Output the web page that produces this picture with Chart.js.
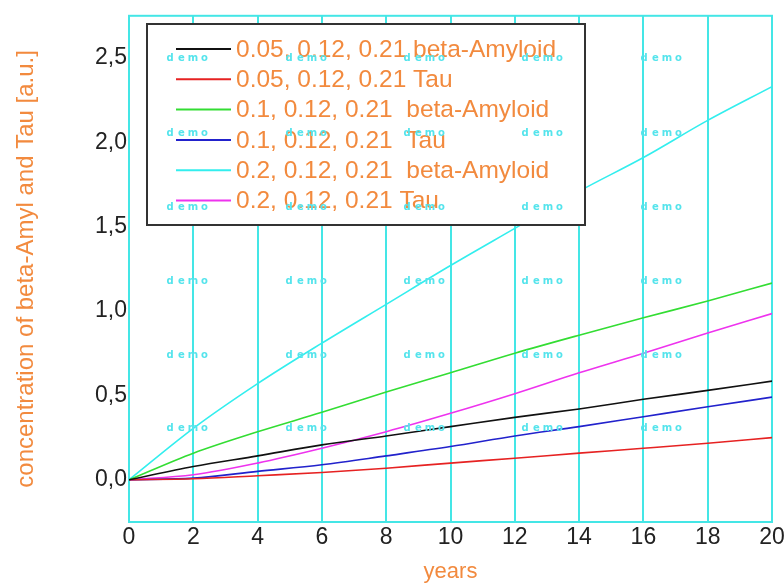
<!DOCTYPE html>
<html>
<head>
<meta charset="utf-8">
<script src="https://cdn.jsdelivr.net/npm/chart.js@4/dist/chart.umd.min.js"></script>
<style>
  body { margin: 0; background: #fff; overflow: hidden; }
  #wrap { width: 784px; height: 585px; overflow: hidden; }
</style>
</head>
<body>
<div id="wrap"><canvas id="chart" width="800" height="585"></canvas></div>
<script>
// years on the x axis
const years = [0, 2, 4, 6, 8, 10, 12, 14, 16, 18, 20];

// concentrations
const beta005 = [0, 0.079, 0.142, 0.207, 0.26, 0.315, 0.37, 0.42, 0.477, 0.53, 0.585];
const tau005 = [0, 0.006, 0.024, 0.043, 0.069, 0.099, 0.128, 0.158, 0.187, 0.217, 0.25];
const beta01 = [0, 0.158, 0.285, 0.40, 0.52, 0.634, 0.75, 0.857, 0.96, 1.06, 1.166];
const tau01 = [0, 0.01, 0.05, 0.089, 0.142, 0.197, 0.26, 0.315, 0.374, 0.433, 0.49];
const beta02 = [0, 0.305, 0.57, 0.81, 1.04, 1.27, 1.49, 1.71, 1.91, 2.13, 2.33];
const tau02 = [0, 0.03, 0.099, 0.187, 0.285, 0.394, 0.51, 0.634, 0.75, 0.87, 0.985];

const seriesLabels = [
    '0.05, 0.12, 0.21 beta-Amyloid',
    '0.05, 0.12, 0.21 Tau',
    '0.1, 0.12, 0.21  beta-Amyloid',
    '0.1, 0.12, 0.21  Tau',
    '0.2, 0.12, 0.21  beta-Amyloid',
    '0.2, 0.12, 0.21 Tau'
];
const seriesValues = [beta005, tau005, beta01, tau01, beta02, tau02];
const seriesColors = ['#111111', '#e62222', '#33dd33', '#2222cc', '#33eeee', '#ee33ee'];

const yTicks = [0, 0.5, 1.0, 1.5, 2.0, 2.5];

const ORANGE = '#f28a3e';
const CYAN = '#44e6e6';

// frame around the plot area
const framePlugin = {
    id: 'frame',
    beforeDatasetsDraw(chart) {
        const { ctx, chartArea: a } = chart;
        ctx.save();
        ctx.strokeStyle = CYAN;
        ctx.lineWidth = 2;
        ctx.strokeRect(a.left, a.top, a.right - a.left, a.bottom - a.top);
        ctx.restore();
    }
};

// boxed legend inside the plot, drawn over the lines
const boxLegend = {
    id: 'boxLegend',
    afterDatasetsDraw(chart) {
        const ctx = chart.ctx;
        const x0 = 147, y0 = 24, w = 438, h = 201;
        ctx.save();
        ctx.fillStyle = '#fff';
        ctx.fillRect(x0, y0, w, h);
        ctx.strokeStyle = '#333';
        ctx.lineWidth = 2;
        ctx.strokeRect(x0, y0, w, h);
        ctx.font = '24.5px "Liberation Sans", Arial, sans-serif';
        ctx.textBaseline = 'middle';
        chart.data.datasets.forEach((ds, i) => {
            const y = 49 + i * 30.3;
            ctx.strokeStyle = ds.borderColor;
            ctx.lineWidth = 2;
            ctx.beginPath();
            ctx.moveTo(176, y);
            ctx.lineTo(231, y);
            ctx.stroke();
            ctx.fillStyle = ORANGE;
            ctx.fillText(ds.label, 236, y + 1);
        });
        ctx.restore();
    }
};

// "demo" watermark grid
const watermark = {
    id: 'watermark',
    afterDraw(chart) {
        const ctx = chart.ctx;
        const xs = [187, 306, 424, 542, 661];
        const ys = [58, 133, 207, 281, 355, 428];
        ctx.save();
        ctx.font = 'bold 10px "DejaVu Sans", sans-serif';
        ctx.fillStyle = '#55e4ec';
        ctx.textAlign = 'center';
        ctx.textBaseline = 'middle';
        xs.forEach(x => ys.forEach(y => {
            'demo'.split('').forEach((c, k) => ctx.fillText(c, x - 17 + k * 11.5, y));
        }));
        ctx.restore();
    }
};

const ctx = document.getElementById('chart').getContext('2d');
const chart = new Chart(ctx, {
    type: 'line',
    data: {
        datasets: seriesValues.map((vals, i) => ({
            label: seriesLabels[i],
            data: years.map((t, k) => ({ x: t, y: vals[k] })),
            borderColor: seriesColors[i],
            borderWidth: 1.6,
            pointRadius: 0,
            cubicInterpolationMode: 'monotone',
            fill: false
        }))
    },
    options: {
        responsive: false,
        animation: false,
        devicePixelRatio: 1,
        // canvas is 800 wide so the last x label runs off the 784px page like the original
        layout: { padding: { top: 14, right: 28, left: 0, bottom: 0 }, autoPadding: false },
        plugins: {
            legend: { display: false },
            tooltip: { enabled: false }
        },
        scales: {
            x: {
                type: 'linear',
                min: 0,
                max: 20,
                afterFit: s => { s.height = 63; },
                ticks: {
                    stepSize: 2,
                    padding: 2,
                    color: '#222',
                    font: { family: '"Liberation Sans", Arial, sans-serif', size: 23 }
                },
                grid: { color: CYAN, lineWidth: 2, drawTicks: false },
                border: { color: CYAN, width: 2 },
                title: {
                    display: true,
                    text: 'years',
                    color: ORANGE,
                    font: { family: '"Liberation Sans", Arial, sans-serif', size: 22 },
                    padding: { top: 0, bottom: 0 }
                }
            },
            y: {
                min: -0.25,
                max: 2.75,
                afterFit: s => { s.width = 129; },
                afterBuildTicks: s => { s.ticks = yTicks.map(v => ({ value: v })); },
                ticks: {
                    padding: 2,
                    color: '#222',
                    font: { family: '"Liberation Sans", Arial, sans-serif', size: 23 },
                    callback: v => v.toFixed(1).replace('.', ',')
                },
                grid: { display: false, drawTicks: false },
                border: { color: CYAN, width: 2 },
                title: {
                    display: true,
                    text: 'concentration of beta-Amyl and Tau [a.u.]',
                    color: ORANGE,
                    font: { family: '"Liberation Sans", Arial, sans-serif', size: 24 },
                    padding: { top: 12, bottom: 0 }
                }
            }
        }
    },
    plugins: [framePlugin, boxLegend, watermark]
});
</script>
</body>
</html>
